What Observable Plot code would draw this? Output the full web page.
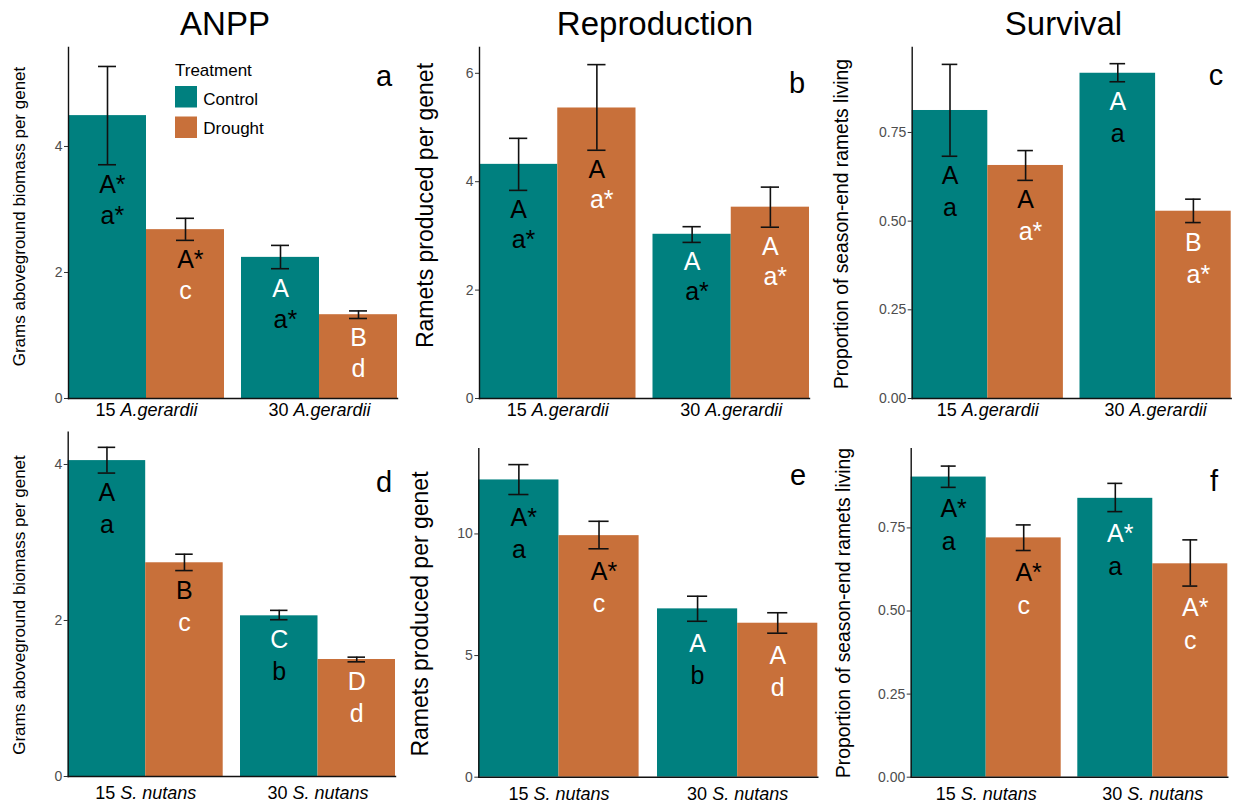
<!DOCTYPE html>
<html><head><meta charset="utf-8">
<script src="https://cdn.jsdelivr.net/npm/d3@7"></script>
<script src="https://cdn.jsdelivr.net/npm/@observablehq/plot@0.6"></script>
<style>
html,body{margin:0;padding:0;background:#fff;}
#root{position:relative;width:1241px;height:806px;overflow:hidden;font-family:"Liberation Sans",Arial,sans-serif;}
#root > svg{position:absolute;}
</style></head><body><div id="root"></div>
<script>
// ---------- data ----------
const treatments = ["Control", "Drought"];
const groupsTop = ["15 A.gerardii", "30 A.gerardii"];
const groupsBottom = ["15 S. nutans", "30 S. nutans"];
// bar order: 15-Control, 15-Drought, 30-Control, 30-Drought
const anppAgMean = [4.49, 2.68, 2.24, 1.33];
const anppAgLow  = [3.71, 2.51, 2.06, 1.27];
const anppAgHigh = [5.27, 2.86, 2.43, 1.39];
const anppAgUpper = ["A*", "A*", "A", "B"];
const anppAgLower = ["a*", "c", "a*", "d"];

const reproAgMean = [4.32, 5.36, 3.03, 3.53];
const reproAgLow  = [3.84, 4.58, 2.88, 3.16];
const reproAgHigh = [4.80, 6.16, 3.17, 3.90];
const reproAgUpper = ["A", "A", "A", "A"];
const reproAgLower = ["a*", "a*", "a*", "a*"];

const survAgMean = [0.812, 0.657, 0.917, 0.528];
const survAgLow  = [0.683, 0.615, 0.893, 0.496];
const survAgHigh = [0.942, 0.699, 0.944, 0.562];
const survAgUpper = ["A", "A", "A", "B"];
const survAgLower = ["a", "a*", "a", "a*"];

const anppSnMean = [4.05, 2.74, 2.06, 1.50];
const anppSnLow  = [3.89, 2.64, 2.01, 1.47];
const anppSnHigh = [4.22, 2.85, 2.13, 1.53];
const anppSnUpper = ["A", "B", "C", "D"];
const anppSnLower = ["a", "c", "b", "d"];

const reproSnMean = [12.22, 9.93, 6.92, 6.33];
const reproSnLow  = [11.62, 9.39, 6.41, 5.92];
const reproSnHigh = [12.85, 10.52, 7.44, 6.76];
const reproSnUpper = ["A*", "A*", "A", "A"];
const reproSnLower = ["a", "c", "b", "d"];

const survSnMean = [0.903, 0.720, 0.839, 0.642];
const survSnLow  = [0.872, 0.682, 0.799, 0.575];
const survSnHigh = [0.936, 0.759, 0.884, 0.714];
const survSnUpper = ["A*", "A*", "A*", "A*"];
const survSnLower = ["a", "c", "a", "c"];

const columnTitles = ["ANPP", "Reproduction", "Survival"];
const yTitles = ["Grams aboveground biomass per genet", "Ramets produced per genet", "Proportion of season-end ramets living"];
const panelLetters = ["a", "b", "c", "d", "e", "f"];
const legendTitle = "Treatment";

// ---------- styles ----------
const colors = {Control: "#00807F", Drought: "#C8703A"};
const FONT = "'Liberation Sans', Arial, sans-serif";

function rows(groups, mean, lo, hi, upper, lower) {
  const out = []; let i = 0;
  for (const g of groups) for (const t of treatments) {
    out.push({group: g, density: g.split(" ")[0], treatment: t, mean: mean[i], lo: lo[i], hi: hi[i], upper: upper[i], lower: lower[i]});
    i++;
  }
  return out;
}

const fmtInt = d3.format("d"), fmt2 = d3.format(".2f");
const panels = [
  {data: rows(groupsTop, anppAgMean, anppAgLow, anppAgHigh, anppAgUpper, anppAgLower), groups: groupsTop,
   left: 0, top: 0, width: 410, height: 420, mL: 47, mR: 5, mT: 47, mB: 22, bars: [68, 397], gap: 17,
   ymax: 5.571, ticks: [0, 2, 4], fmt: fmtInt, dyU: 20, dyL: 51, labPad: 5},
  {data: rows(groupsTop, reproAgMean, reproAgLow, reproAgHigh, reproAgUpper, reproAgLower), groups: groupsTop,
   left: 410, top: 0, width: 410, height: 420, mL: 47.7, mR: 3.3, mT: 47, mB: 22, bars: [69, 399], gap: 17,
   ymax: 6.476, ticks: [0, 2, 4, 6], fmt: fmtInt, dyU: 20, dyL: 50, labPad: 5},
  {data: rows(groupsTop, survAgMean, survAgLow, survAgHigh, survAgUpper, survAgLower), groups: groupsTop,
   left: 820, top: 0, width: 421, height: 420, mL: 71, mR: 7, mT: 47, mB: 22, bars: [91.7, 410.7], gap: 16.6,
   ymax: 0.9896, ticks: [0, 0.25, 0.5, 0.75], fmt: fmt2, dyU: 20, dyL: 52, labPad: 5},
  {data: rows(groupsBottom, anppSnMean, anppSnLow, anppSnHigh, anppSnUpper, anppSnLower), groups: groupsBottom,
   left: 0, top: 420, width: 410, height: 386, mL: 48, mR: 5, mT: 11.7, mB: 30, bars: [67.7, 395], gap: 17.3,
   ymax: 4.414, ticks: [0, 2, 4], fmt: fmtInt, dyU: 20, dyL: 52, labPad: 10},
  {data: rows(groupsBottom, reproSnMean, reproSnLow, reproSnHigh, reproSnUpper, reproSnLower), groups: groupsBottom,
   left: 410, top: 420, width: 410, height: 386, mL: 49.3, mR: 0, mT: 28.3, mB: 29.3, bars: [68.3, 407.3], gap: 18.4,
   ymax: 13.5, ticks: [0, 5, 10], fmt: fmtInt, dyU: 23, dyL: 55, labPad: 10},
  {data: rows(groupsBottom, survSnMean, survSnLow, survSnHigh, survSnUpper, survSnLower), groups: groupsBottom,
   left: 820, top: 420, width: 421, height: 386, mL: 72.7, mR: 7, mT: 28.3, mB: 29.3, bars: [90.7, 407.3], gap: 16.6,
   ymax: 0.988, ticks: [0, 0.25, 0.5, 0.75], fmt: fmt2, dyU: 22, dyL: 55, labPad: 10}
];

const upperFill = d => d.density === "15" ? "#000" : "#fff";
const lowerFill = d => d.treatment === "Control" ? "#000" : "#fff";

function labelMarks(data, key, dy, colorFn) {
  const marks = [];
  for (const star of [true, false]) for (const col of ["#000", "#fff"]) {
    const sub = data.filter(d => d[key].includes("*") === star && colorFn(d) === col);
    if (sub.length) marks.push(Plot.text(sub, {fx: "group", x: "treatment", y: "lo", text: key, dy, dx: star ? 4.9 : 0,
      fill: col, fontSize: 25, lineAnchor: "middle", fontFamily: FONT}));
  }
  return marks;
}

const root = document.getElementById("root");

for (const p of panels) {
  const L = p.bars[1] - p.bars[0];
  const step = (L + p.gap) / 2;
  const ebar = {fx: "group", x: "treatment", stroke: "#111", strokeWidth: 1.6};
  const svg = Plot.plot({
    width: p.width, height: p.height,
    marginLeft: p.mL, marginRight: p.mR, marginTop: p.mT, marginBottom: p.mB,
    style: {fontFamily: FONT, background: "transparent", overflow: "visible"},
    fx: {domain: p.groups, range: p.bars, paddingInner: p.gap / step, paddingOuter: 0, round: false, label: null},
    x: {domain: treatments, padding: 0, round: false, axis: null, label: null},
    y: {domain: [0, p.ymax], label: null},
    color: {domain: treatments, range: [colors.Control, colors.Drought]},
    marks: [
      Plot.barY(p.data, {fx: "group", x: "treatment", y: "mean", fill: "treatment"}),
      Plot.ruleX(p.data, {...ebar, y1: "lo", y2: "hi"}),
      Plot.tickY(p.data, {...ebar, y: "hi", insetLeft: 30, insetRight: 30}),
      Plot.tickY(p.data, {...ebar, y: "lo", insetLeft: 30, insetRight: 30}),
      ...labelMarks(p.data, "upper", p.dyU, upperFill),
      ...labelMarks(p.data, "lower", p.dyL, lowerFill),
      Plot.axisY({ticks: p.ticks, tickFormat: p.fmt, tickSize: 4, tickPadding: 2, fontSize: 14, fill: "#4d4d4d", stroke: "#333", label: null}),
      Plot.axisFx({anchor: "bottom", tickSize: 0, tickPadding: p.labPad, fontSize: 18, fill: "#000", label: null}),
      Plot.frame({anchor: "left", facet: "super", stroke: "#111", strokeWidth: 1.4}),
      Plot.frame({anchor: "bottom", facet: "super", stroke: "#111", strokeWidth: 1.4})
    ]
  });
  svg.style.left = p.left + "px";
  svg.style.top = p.top + "px";
  // italicise species names in group labels
  svg.querySelectorAll('[aria-label="fx-axis tick label"] text').forEach(t => {
    const s = t.textContent;
    const i = s.indexOf(" ");
    t.textContent = "";
    t.setAttribute("style", "white-space:pre");
    const a = document.createElementNS("http://www.w3.org/2000/svg", "tspan");
    a.textContent = s.slice(0, i + 1);
    const b = document.createElementNS("http://www.w3.org/2000/svg", "tspan");
    b.textContent = s.slice(i + 1);
    b.setAttribute("font-style", "italic");
    t.appendChild(a); t.appendChild(b);
  });
  root.appendChild(svg);
}

// ---------- annotations overlay ----------
const layout = {
  titles: [{x: 225, y: 35}, {x: 655, y: 35}, {x: 1063.5, y: 35}],
  letters: [{x: 384, y: 86}, {x: 797, y: 93}, {x: 1216, y: 85}, {x: 384, y: 491.5}, {x: 798, y: 485}, {x: 1214, y: 490.5}],
  ylabels: [
    {x: 19, y: 216.5, size: 17, t: 0}, {x: 425, y: 205.5, size: 23, t: 1}, {x: 841, y: 224, size: 19.3, t: 2},
    {x: 19.3, y: 605, size: 17, t: 0}, {x: 420, y: 614, size: 23, t: 1}, {x: 843, y: 613, size: 19.3, t: 2}
  ]
};
const NS = "http://www.w3.org/2000/svg";
const ov = document.createElementNS(NS, "svg");
ov.setAttribute("width", 1241); ov.setAttribute("height", 806);
ov.style.left = "0px"; ov.style.top = "0px"; ov.style.fontFamily = FONT;
function addText(txt, attrs) {
  const t = document.createElementNS(NS, "text");
  for (const k in attrs) t.setAttribute(k, attrs[k]);
  t.textContent = txt; ov.appendChild(t); return t;
}
columnTitles.forEach((s, i) => addText(s, {x: layout.titles[i].x, y: layout.titles[i].y, "text-anchor": "middle", "font-size": 33, fill: "#000"}));
panelLetters.forEach((s, i) => addText(s, {x: layout.letters[i].x, y: layout.letters[i].y, "text-anchor": "middle", "font-size": 29, fill: "#000"}));
layout.ylabels.forEach(l => addText(yTitles[l.t], {x: 0, y: 0, transform: `translate(${l.x},${l.y}) rotate(-90)`, "text-anchor": "middle", "dominant-baseline": "central", "font-size": l.size, fill: "#000"}));
// legend
addText(legendTitle, {x: 175, y: 76, "font-size": 17, fill: "#000"});
treatments.forEach((t, i) => {
  const r = document.createElementNS(NS, "rect");
  r.setAttribute("x", 175); r.setAttribute("y", 86 + i * 30.5);
  r.setAttribute("width", 22); r.setAttribute("height", 21.5);
  r.setAttribute("fill", colors[t]); ov.appendChild(r);
  addText(t, {x: 203.3, y: 105 + i * 28.5, "font-size": 17, fill: "#000"});
});
root.appendChild(ov);
</script>
</body></html>
